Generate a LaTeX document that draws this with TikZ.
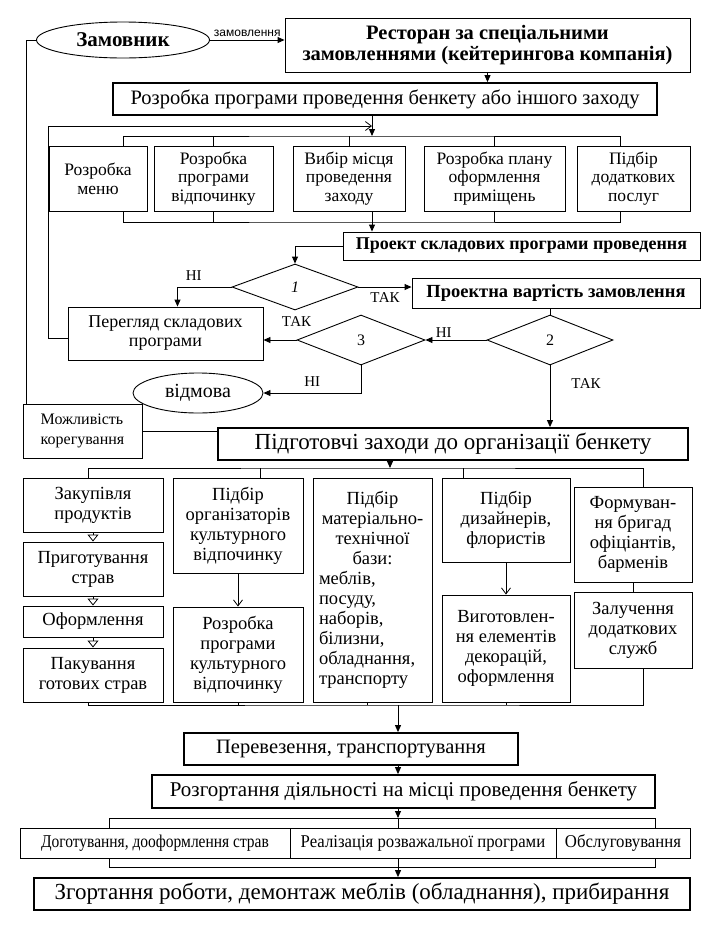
\documentclass[tikz,border=0pt]{standalone}
\usepackage{fontspec}
\setmainfont{Liberation Serif}
\setsansfont{Liberation Sans}
\newfontfamily\narrowserif{Liberation Serif}[FakeStretch=0.86]
\newfontfamily\semiserif{Liberation Serif}[FakeStretch=0.93]
\usetikzlibrary{shapes.geometric,arrows.meta}
\newcommand{\fsz}[2]{\fontsize{#1}{#2}\selectfont}

\begin{document}
\begin{tikzpicture}[x=1pt,y=-1pt,
  box/.style={draw, line width=0.9pt, align=center, inner sep=1pt, font=\fsz{17.5}{18.7}},
  tall/.style={box, font=\fsz{18.5}{20}},
  heavy/.style={box, line width=1.8pt},
  oval/.style={draw, ellipse, line width=0.9pt, inner sep=0pt},
  choice/.style={draw, diamond, line width=0.9pt, inner sep=0pt, font=\fsz{16}{18}},
  arr/.style={-{Triangle[length=7pt,width=6pt]}, line width=0.9pt},
  barb/.style={-{Straight Barb[length=6pt,width=9pt]}, line width=0.8pt},
  tri/.style={-{Triangle[open,length=7pt,width=11pt]}, line width=0.8pt},
  lbl/.style={font=\fsz{15}{17}, inner sep=1pt},
]
\useasboundingbox (0,0) rectangle (710,927);

% top: client and company
\node[oval, minimum width=173pt, minimum height=36pt, font=\fsz{21}{23}\bfseries] (client) at (123,40) {Замовник};
\node[box, minimum width=405pt, minimum height=54pt, font=\fsz{20.5}{21.5}\bfseries] (caterer) at (487.5,45) {Ресторан за спеціальними\\замовленнями (кейтерингова компанія)};
\node[heavy, minimum width=544pt, minimum height=32pt, font=\fsz{20.5}{22}] (plan) at (385,99) {Розробка програми проведення бенкету або іншого заходу};

% programme parts
\node[box, minimum width=98pt, minimum height=65pt] (menu) at (98,178.5) {Розробка\\меню};
\node[box, minimum width=119pt, minimum height=65pt] (leisure) at (213.5,178.5) {Розробка\\програми\\відпочинку};
\node[box, minimum width=112pt, minimum height=65pt] (venue) at (349,178.5) {Вибір місця\\проведення\\заходу};
\node[box, minimum width=141pt, minimum height=65pt] (decor) at (494.5,178.5) {Розробка плану\\оформлення\\приміщень};
\node[box, minimum width=113pt, minimum height=65pt] (extra) at (633.5,178.5) {Підбір\\додаткових\\послуг};

% checks
\node[box, minimum width=357pt, minimum height=28pt, font=\fsz{18}{20}\bfseries] (draft) at (521.5,246) {Проект складових програми проведення};
\node[choice, minimum width=126pt, minimum height=46pt] (q1) at (295,287) {\textit{1}};
\node[box, minimum width=288pt, minimum height=30pt, font=\fsz{18.5}{20}\bfseries] (cost) at (556,293) {Проектна вартість замовлення};
\node[choice, minimum width=126pt, minimum height=50pt] (q2) at (550,340) {2};
\node[choice, minimum width=128pt, minimum height=50pt] (q3) at (361,340) {3};
\node[box, minimum width=195pt, minimum height=53pt, font=\fsz{18}{19}] (review) at (165.5,333.5) {Перегляд складових\\програми};
\node[oval, minimum width=130pt, minimum height=40pt, font=\fsz{20}{22}] (refusal) at (198,393) {відмова};
\node[box, minimum width=119pt, minimum height=54pt, font=\fsz{16}{20}, align=left] (adjust) at (82.5,431) {Можливість\\корегування};
\node[heavy, minimum width=470pt, minimum height=32pt, font=\fsz{23}{25}] (prep) at (453,444) {Підготовчі заходи до організації бенкету};

% preparation
\node[tall, minimum width=140pt, minimum height=54pt] (buy) at (93,505) {Закупівля\\продуктів};
\node[tall, minimum width=140pt, minimum height=54pt] (cook) at (93,569) {Приготування\\страв};
\node[tall, minimum width=140pt, minimum height=31pt] (garnish) at (93,621.5) {Оформлення};
\node[tall, minimum width=140pt, minimum height=54pt] (pack) at (93,675) {Пакування\\готових страв};
\node[tall, minimum width=130pt, minimum height=95pt] (hosts) at (238,525.5) {Підбір\\організаторів\\культурного\\відпочинку};
\node[tall, minimum width=130pt, minimum height=95pt] (show) at (238,654.5) {Розробка\\програми\\культурного\\відпочинку};
\node[tall, align=left, text width=107pt, minimum width=119pt, minimum height=224pt] (base) at (372.5,590)
  {\centering Підбір\\матеріально-\\технічної\\бази:\par\raggedright меблів,\\посуду,\\наборів,\\білизни,\\обладнання,\\транспорту};
\node[tall, minimum width=128pt, minimum height=84pt] (design) at (506,520) {Підбір\\дизайнерів,\\флористів};
\node[tall, minimum width=128pt, minimum height=107pt] (props) at (506,648.5) {Виготовлен-\\ня елементів\\декорацій,\\оформлення};
\node[tall, minimum width=118pt, minimum height=95pt] (staff) at (633,534.5) {Формуван-\\ня бригад\\офіціантів,\\барменів};
\node[tall, minimum width=118pt, minimum height=76pt] (services) at (633,630) {Залучення\\додаткових\\служб};

% on site
\node[heavy, minimum width=334pt, minimum height=32pt, font=\fsz{20.5}{22}] (transp) at (351,749) {Перевезення, транспортування};
\node[heavy, minimum width=503pt, minimum height=33pt, font=\fsz{21}{23}] (deploy) at (403.5,791.5) {Розгортання діяльності на місці проведення бенкету};
\node[box, minimum width=270pt, minimum height=30pt, font=\narrowserif\fsz{18}{20}] (s1) at (155,843) {Доготування, дооформлення страв};
\node[box, minimum width=266pt, minimum height=30pt, font=\semiserif\fsz{18}{20}] (s2) at (423,843) {Реалізація розважальної програми};
\node[box, minimum width=134pt, minimum height=30pt, font=\semiserif\fsz{18}{20}] (s3) at (623,843) {Обслуговування};
\node[heavy, minimum width=656pt, minimum height=32pt, font=\fsz{23}{25}] (final) at (362,894) {Згортання роботи, демонтаж меблів (обладнання), прибирання};

% connectors, upper part
\coordinate (topbus) at (372,136);
\coordinate (botbus) at (372,222);
\coordinate (loop) at (48,126);
\draw[arr] (client) -- (caterer.west |- client) node[midway, above=3pt, font=\sffamily\fsz{12}{13}, inner sep=0pt] {замовлення};
\draw[arr] (caterer.south) -- (caterer.south |- plan.north);
\draw[arr] (plan.south -| topbus) -- (topbus);
\draw ([xshift=25pt]menu.north) |- (topbus) -| ([xshift=-13pt]extra.north);
\foreach \n in {leisure,venue,decor} \draw (\n.north) -- (\n.north |- topbus);
\draw ([xshift=25pt]menu.south) |- (botbus) -| ([xshift=-13pt]extra.south);
\foreach \n in {leisure,decor} \draw (\n.south) -- (\n.south |- botbus);
\draw[arr] (venue.south -| botbus) -- (draft.north -| botbus);
\draw[arr] (draft.west) -| (q1.north);
\draw[arr] (q1.west) -| ([xshift=12pt]review.north) node[lbl, pos=0.35, above=5pt] {НІ};
\draw[arr] (q1.east) -- (q1.east -| cost.west) node[lbl, midway, below=4pt] {ТАК};
\draw (cost.south -| q2.north) -- (q2.north);
\draw[arr] (q2.west) -- (q3.east) node[lbl, pos=0.7, above=1pt] {НІ};
\draw[arr] (q3.west) -- (q3.west -| review.east) node[lbl, pos=0, above=12pt] {ТАК};
\draw[arr] (q3.south) |- (refusal.east) node[lbl, pos=0.75, above=5pt] {НІ};
\draw[arr] (q2.south) -- (q2.south |- prep.north) node[lbl, pos=0.3, right=20pt] {ТАК};
\draw[barb] ([yshift=-5pt]review.west) -| (loop) -- (loop -| topbus);
\draw (client.west) -| ([xshift=4pt]adjust.north west);
\draw (adjust.east) -- (adjust.east -| prep.west);

% connectors, lower part
\coordinate (prepbus) at (390,468);
\coordinate (lowbus) at (398,705);
\coordinate (stagebus) at (398,818);
\coordinate (endbus) at (398,867);
\draw[arr] (prep.south -| prepbus) -- (prepbus);
\draw ([xshift=-5pt]buy.north) |- (prepbus) -| ([xshift=10pt]staff.north);
\draw ([xshift=22pt]hosts.north) -- ++(0,-10);
\draw ([xshift=-43pt]design.north) -- ++(0,-10);
\draw[tri] (buy) -- (cook);
\draw[tri] (cook) -- (garnish);
\draw[tri] (garnish) -- (pack);
\draw[barb] (hosts) -- (show);
\draw[barb] (design) -- (props);
\draw (staff) -- (services);
\draw ([xshift=-5pt]pack.south) |- (lowbus) -| ([xshift=10pt]services.south);
\foreach \n in {show,props} \draw (\n.south) -- (\n.south |- lowbus);
\draw ([xshift=-5pt]base.south) -- ++(0,3);
\draw[arr] (lowbus) -- (lowbus |- transp.north);
\draw[arr] (transp.south -| lowbus) -- (lowbus |- deploy.north);
\draw[arr] (deploy.south -| stagebus) -- (stagebus);
\draw ([xshift=-46pt]s1.north) |- (stagebus) -| ([xshift=32pt]s3.north);
\draw (stagebus) -- (stagebus |- s2.north);
\draw ([xshift=-46pt]s1.south) |- (endbus) -| ([xshift=32pt]s3.south);
\draw[arr] (s2.south -| endbus) -- (endbus |- final.north);
\end{tikzpicture}
\end{document}
